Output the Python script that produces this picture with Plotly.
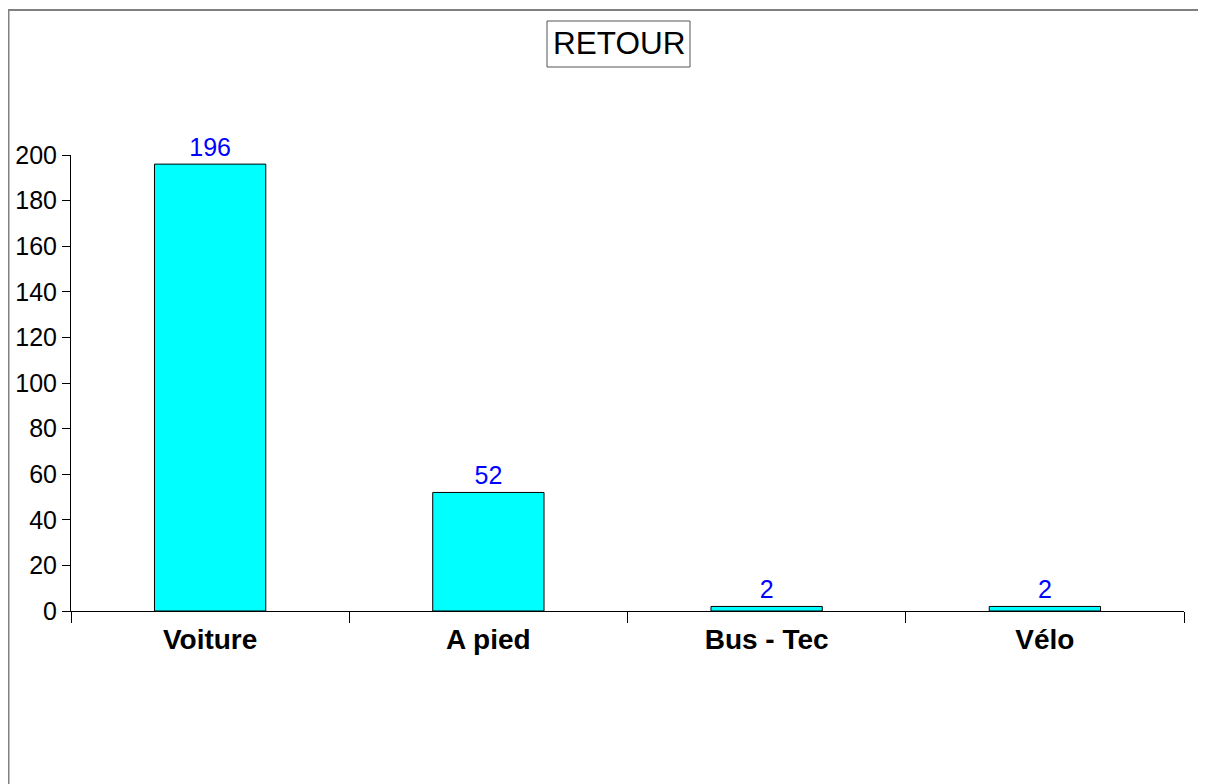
import plotly.graph_objects as go

categories = ["Voiture", "A pied", "Bus - Tec", "Vélo"]
values = [196, 52, 2, 2]
y_ticks = [0, 20, 40, 60, 80, 100, 120, 140, 160, 180, 200]
title_text = "RETOUR"

W, H = 1206, 784
# the page is shown with an 8px body margin, so figure coords = screen - 8
L, T = 63, 147
R, B = W - 1176, H - 603
pw, ph = W - L - R, H - T - B


def fx(px):
    return (px - L) / pw


def fy(py):
    return (H - B - py) / ph


fig = go.Figure()
fig.add_trace(go.Bar(
    x=categories,
    y=values,
    width=0.4,
    marker=dict(color="#00FFFF", line=dict(color="#000000", width=1)),
    text=[str(v) for v in values],
    textposition="outside",
    textfont=dict(color="#0000FF", size=25, family="Liberation Sans, Arial"),
    cliponaxis=False,
    hoverinfo="skip",
))

# figure border (top and left edges visible)
fig.add_shape(type="line", xref="paper", yref="paper", x0=fx(0), x1=fx(W + 20), y0=fy(2), y1=fy(2),
              line=dict(color="#808080", width=2))
fig.add_shape(type="line", xref="paper", yref="paper", x0=fx(0.5), x1=fx(0.5), y0=fy(2), y1=fy(H + 20),
              line=dict(color="#808080", width=2))

# title box
fig.add_shape(type="rect", xref="paper", yref="paper", x0=fx(539), x1=fx(682), y0=fy(13), y1=fy(59),
              line=dict(color="#555555", width=1), fillcolor="#FFFFFF")
fig.add_annotation(
    text=title_text, xref="paper", yref="paper",
    x=fx(610.5), y=fy(35.5), xanchor="center", yanchor="middle",
    showarrow=False, font=dict(size=31.5, color="#000000", family="Liberation Sans, Arial"),
)

fig.update_layout(
    width=W, height=H,
    margin=dict(l=L, r=R, t=T, b=B, pad=0, autoexpand=False),
    paper_bgcolor="#FFFFFF", plot_bgcolor="#FFFFFF",
    showlegend=False,
    font=dict(family="Liberation Sans, Arial", color="#000000"),
    bargap=0.6,
)
fig.update_xaxes(
    type="category", range=[-0.5, 3.5], automargin=False,
    showline=True, linecolor="#000000", linewidth=1,
    ticks="outside", tickson="boundaries", ticklen=11, tickcolor="#000000", tickwidth=1,
    ticklabelstandoff=3,
    showgrid=False, zeroline=False,
    tickfont=dict(size=28, family="Liberation Sans, Arial", color="#000000", weight="bold"),
)
fig.update_yaxes(
    range=[0, 200], tickvals=y_ticks, ticktext=[str(v) for v in y_ticks], automargin=False,
    showline=True, linecolor="#000000", linewidth=1,
    ticks="outside", ticklen=8, tickcolor="#000000", tickwidth=1,
    showgrid=False, zeroline=False,
    tickfont=dict(size=25, family="Liberation Sans, Arial", color="#000000"),
)

fig.write_html("out.html")
